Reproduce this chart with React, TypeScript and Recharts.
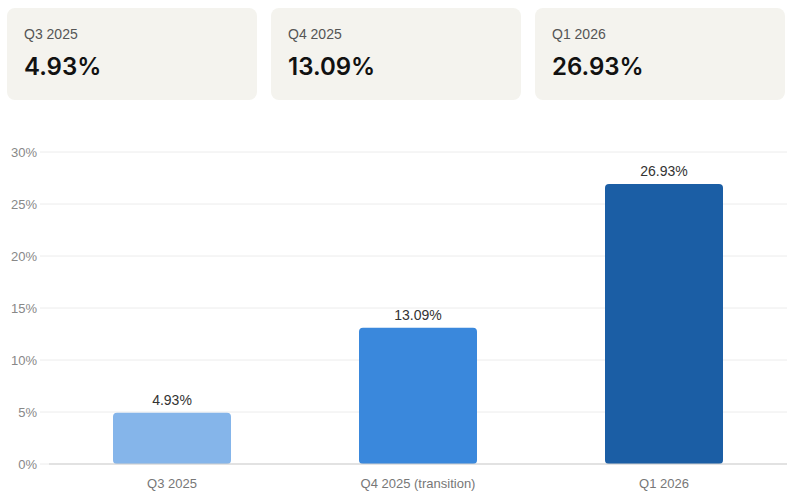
import React from "react";
import { BarChart, Bar, XAxis, YAxis, CartesianGrid, Cell, LabelList } from "recharts";

// ── Data ──────────────────────────────────────────────────────────────────────
const quarters = ["Q3 2025", "Q4 2025 (transition)", "Q1 2026"];
const cardLabels = ["Q3 2025", "Q4 2025", "Q1 2026"];
const rates = [4.93, 13.09, 26.93];
const barColors = ["#85b5ea", "#3a88dc", "#1b5ea5"];
const yTicks = [0, 5, 10, 15, 20, 25, 30];

const FONT = "'Liberation Sans', Arial, Helvetica, sans-serif";
const fmtPct = (v: number) => `${v.toFixed(2)}%`;

const data = quarters.map((q, i) => ({ quarter: q, rate: rates[i] }));

function StatCard({ label, value }: { label: string; value: number }) {
  return (
    <div style={{ width: 250, height: 92, background: "#f4f3ee", borderRadius: 8, boxSizing: "border-box", padding: "16px 0 0 17px" }}>
      <div style={{ fontSize: 14, color: "#555", lineHeight: "20px" }}>{label}</div>
      <div style={{ fontSize: 24, fontWeight: 600, color: "#111", marginTop: 7, lineHeight: "32px", fontFamily: "Inter, " + FONT }}>{fmtPct(value)}</div>
    </div>
  );
}

export default function App() {
  return (
    <div style={{ position: "absolute", left: 0, top: 0, width: 791, height: 501, background: "#fff", fontFamily: FONT }}>
      <div style={{ position: "absolute", left: 7, top: 8, display: "flex", gap: 14 }}>
        {cardLabels.map((l, i) => <StatCard key={l} label={l} value={rates[i]} />)}
      </div>
      <div style={{ position: "absolute", left: 0, top: 140 }}>
        <BarChart width={791} height={361} data={data} margin={{ top: 12, right: 4, left: 0, bottom: 7 }} barSize={118}>
          <CartesianGrid stroke="#ececec" vertical={false} />
          <XAxis
            dataKey="quarter"
            axisLine={{ stroke: "#cfcfcf" }}
            tickLine={false}
            tickMargin={9}
            height={30}
            tick={{ fontSize: 13, fill: "#777", fontFamily: FONT }}
          />
          <YAxis
            domain={[0, 30]}
            ticks={yTicks}
            tickFormatter={(v) => `${v}%`}
            axisLine={false}
            tickLine={{ stroke: "#ececec" }}
            tickSize={9}
            tickMargin={3}
            width={49}
            tick={{ fontSize: 13, fill: "#888", fontFamily: FONT }}
          />
          <Bar dataKey="rate" radius={4} isAnimationActive={false}>
            {data.map((_, i) => <Cell key={i} fill={barColors[i]} />)}
            <LabelList dataKey="rate" position="top" offset={8} formatter={(v: number) => fmtPct(v)} style={{ fontSize: 14, fill: "#333", fontFamily: FONT }} />
          </Bar>
        </BarChart>
      </div>
    </div>
  );
}
